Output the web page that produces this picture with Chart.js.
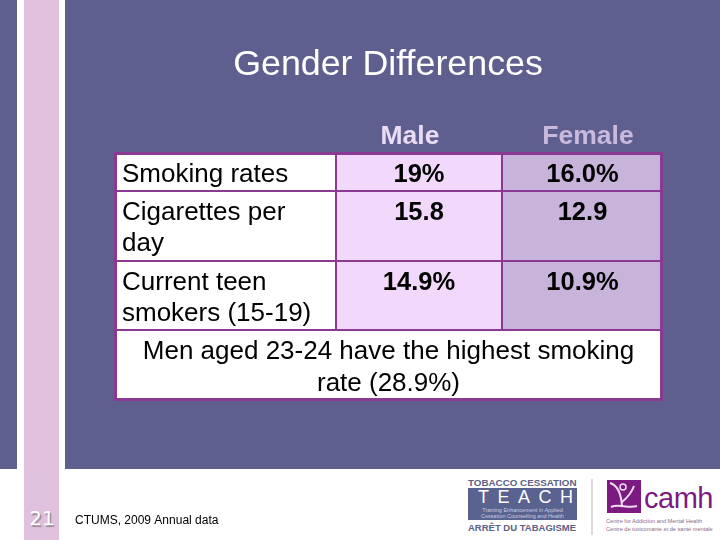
<!DOCTYPE html>
<html>
<head>
<meta charset="utf-8">
<script src="https://cdn.jsdelivr.net/npm/chart.js@4"></script>
<style>
  html, body { margin: 0; padding: 0; background: #fff; }
  #slide { position: relative; width: 720px; height: 540px; overflow: hidden; font-family: "Liberation Sans", Arial, sans-serif; }
  #slide > div, #slide > svg { position: absolute; }
  canvas { position: absolute; left: 0; top: 0; }
  .band { background: #5f5f8f; top: 0; height: 469px; }
  .logo-text { color: #5b6088; font-weight: bold; white-space: nowrap; }
</style>
</head>
<body>
<div id="slide">
  <div class="band" style="left:0;width:17px"></div>
  <div style="left:24px;top:0;width:35px;height:540px;background:#dfc1de"></div>
  <div class="band" style="left:65px;width:655px"></div>

  <!-- footer logos -->
  <div class="logo-text" style="left:468px;top:477px;font-size:9.8px">TOBACCO CESSATION</div>
  <div style="left:468px;top:488px;width:109px;height:32px;background:#5a6290"></div>
  <div style="left:478px;top:487px;color:#fff;font-size:18px;letter-spacing:8.5px;white-space:nowrap">TEACH</div>
  <div style="left:468px;top:508px;width:109px;text-align:center;color:#c9cde0;font-size:5.5px;line-height:5.5px;white-space:nowrap">Training Enhancement in Applied<br>Cessation Counselling and Health</div>
  <div class="logo-text" style="left:468px;top:522px;font-size:9.5px">ARRÊT DU TABAGISME</div>
  <div style="left:591px;top:479px;width:2px;height:56px;background:#dcdcdc"></div>
  <svg style="left:607px;top:480px" width="34" height="33">
    <rect width="34" height="33" fill="#7d1a82"/>
    <path d="M3 3 C10 5 14 12 15 26 M27 6 C24 14 20 18 15 22 M4 27 C12 23 20 29 30 26" stroke="#f0dcf0" stroke-width="2" fill="none"/>
    <circle cx="16" cy="7" r="3" fill="none" stroke="#f0dcf0" stroke-width="1.5"/>
  </svg>
  <div style="left:644px;top:482px;font-size:29px;color:#7d1a82;letter-spacing:-0.5px">camh</div>
  <div style="left:606px;top:517px;font-size:5.6px;line-height:8px;color:#8a6a8a;white-space:nowrap">Centre for Addiction and Mental Health<br>Centre de toxicomanie et de santé mentale</div>

  <canvas id="slideChart" width="720" height="540"></canvas>
</div>
<script>
const titleText = "Gender Differences";
const columnNames = ["Male", "Female"];
const rowLabels = [["Smoking rates"], ["Cigarettes per", "day"], ["Current teen", "smokers (15-19)"]];
const maleValues = ["19%", "15.8", "14.9%"];
const femaleValues = ["16.0%", "12.9", "10.9%"];
const noteLines = ["Men aged 23-24 have the highest smoking", "rate (28.9%)"];
const pageNumber = "21";
const sourceText = "CTUMS, 2009 Annual data";

// table layout, in axis units (the axes run 0-720 and 0-540)
const colEdges = [114, 336, 502, 663];
const rowEdges = [152, 191, 261, 330, 401];

const lineColor = "#8b3a94";
const FONT = "'Liberation Sans', Arial, sans-serif";

function cellBars(col) {
  return rowLabels.map((_, r) => ({
    x: (colEdges[col] + colEdges[col + 1]) / 2,
    y: [rowEdges[r], rowEdges[r + 1]],
  }));
}

function columnDataset(col, fill, order) {
  return {
    data: cellBars(col),
    backgroundColor: fill,
    borderColor: lineColor,
    borderWidth: 1,
    borderSkipped: false,
    inflateAmount: 0,
    barThickness: colEdges[col + 1] - colEdges[col],
    grouped: false,
    order: order,
  };
}

function spanDataset(top, bottom, fill, width, order) {
  return {
    data: [{ x: (colEdges[0] + colEdges[3]) / 2, y: [top, bottom] }],
    backgroundColor: fill,
    borderColor: lineColor,
    borderWidth: width,
    borderSkipped: false,
    inflateAmount: 0,
    barThickness: colEdges[3] - colEdges[0],
    grouped: false,
    order: order,
  };
}

function put(ctx, text, x, y, font, color, align) {
  ctx.font = font;
  ctx.fillStyle = color;
  ctx.textAlign = align || "center";
  ctx.textBaseline = "middle";
  ctx.fillText(text, x, y);
}

// text goes on top of the bars, anchored to the bar elements
const slideText = {
  id: "slideText",
  afterDatasetsDraw(chart) {
    const ctx = chart.ctx;
    const { x, y } = chart.scales;
    ctx.save();

    put(ctx, titleText, x.getPixelForValue(388), y.getPixelForValue(65), "35.8px " + FONT, "#ffffff");
    put(ctx, columnNames[0], x.getPixelForValue(410), y.getPixelForValue(137), "bold 26.5px " + FONT, "#ebdcf5");
    put(ctx, columnNames[1], x.getPixelForValue(588), y.getPixelForValue(137), "bold 26.5px " + FONT, "#c9b9dc");

    const labelBars = chart.getDatasetMeta(0).data;
    const maleBars = chart.getDatasetMeta(1).data;
    const femaleBars = chart.getDatasetMeta(2).data;
    rowLabels.forEach((lines, r) => {
      const top = Math.min(labelBars[r].y, labelBars[r].base);
      const textTop = r === 0 ? top + 23 : top + 22;
      lines.forEach((line, i) => {
        put(ctx, line, colEdges[0] + 8, textTop + i * 31, "26px " + FONT, "#000000", "left");
      });
      put(ctx, maleValues[r], maleBars[r].x, textTop, "bold 25.5px " + FONT, "#000000");
      put(ctx, femaleValues[r], femaleBars[r].x, textTop, "bold 25.5px " + FONT, "#000000");
    });

    const noteBar = chart.getDatasetMeta(3).data[0];
    const noteTop = Math.min(noteBar.y, noteBar.base);
    noteLines.forEach((line, i) => {
      put(ctx, line, noteBar.x, noteTop + 22 + i * 32, "26px " + FONT, "#000000");
    });

    ctx.shadowColor = "#9a8a9a";
    ctx.shadowOffsetX = 1.5;
    ctx.shadowOffsetY = 1.5;
    ctx.shadowBlur = 1;
    put(ctx, pageNumber, x.getPixelForValue(42), y.getPixelForValue(520), "20px 'DejaVu Sans', sans-serif", "#ffffff");
    ctx.shadowColor = "transparent";
    ctx.shadowOffsetX = 0;
    ctx.shadowOffsetY = 0;
    ctx.shadowBlur = 0;
    put(ctx, sourceText, x.getPixelForValue(75), y.getPixelForValue(521), "12px " + FONT, "#000000", "left");
    ctx.restore();
  },
};

new Chart(document.getElementById("slideChart"), {
  type: "bar",
  data: {
    datasets: [
      columnDataset(0, "#ffffff", 5),
      columnDataset(1, "#f2d9fb", 4),
      columnDataset(2, "#c8b4da", 3),
      spanDataset(rowEdges[3], rowEdges[4], "#ffffff", 1, 2),
      spanDataset(rowEdges[0], rowEdges[4], "rgba(0,0,0,0)", 3, 1),
    ],
  },
  options: {
    responsive: false,
    animation: false,
    layout: { padding: 0 },
    plugins: { legend: { display: false }, tooltip: { enabled: false }, title: { display: false } },
    scales: {
      x: { type: "linear", min: 0, max: 720, display: false, offset: false },
      y: { type: "linear", min: 0, max: 540, reverse: true, display: false },
    },
  },
  plugins: [slideText],
});
</script>
</body>
</html>
